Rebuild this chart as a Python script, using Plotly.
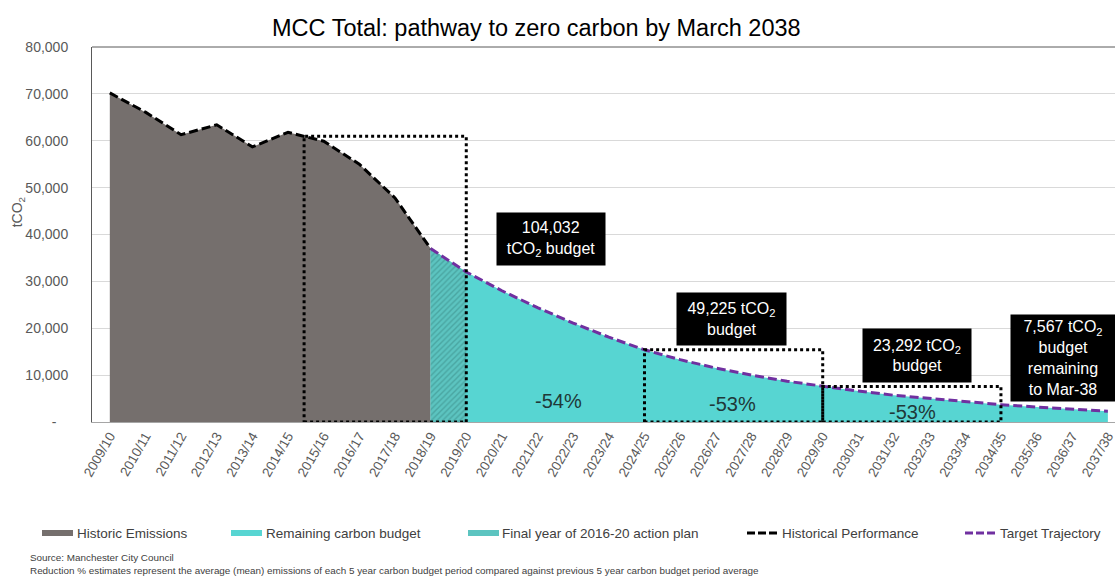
import plotly.graph_objects as go

# ---------------- data ----------------
years = ["2009/10", "2010/11", "2011/12", "2012/13", "2013/14", "2014/15", "2015/16",
         "2016/17", "2017/18", "2018/19", "2019/20", "2020/21", "2021/22", "2022/23",
         "2023/24", "2024/25", "2025/26", "2026/27", "2027/28", "2028/29", "2029/30",
         "2030/31", "2031/32", "2032/33", "2033/34", "2034/35", "2035/36", "2036/37",
         "2037/38"]

historic_emissions = [70200, 66100, 61300, 63400, 58700, 61800, 59900, 55000, 47800, 37000]

target_trajectory = [37000, 32000, 28000, 24400, 21100, 18100, 15400, 13300, 11500, 10000,
                     8700, 7600, 6600, 5700, 5000, 4300, 3700, 3200, 2700, 2300]

budget_texts = ["104,032<br>tCO<sub>2</sub> budget",
                "49,225 tCO<sub>2</sub><br>budget",
                "23,292 tCO<sub>2</sub><br>budget",
                "7,567 tCO<sub>2</sub><br>budget<br>remaining<br>to Mar-38"]

reduction_texts = ["-54%", "-53%", "-53%"]

y_tick_values = [0, 10000, 20000, 30000, 40000, 50000, 60000, 70000, 80000]
y_tick_labels = ["-\u00a0\u00a0\u00a0", "10,000", "20,000", "30,000", "40,000",
                 "50,000", "60,000", "70,000", "80,000"]

legend_labels = ["Historic Emissions", "Remaining carbon budget",
                 "Final year of 2016-20 action plan", "Historical Performance",
                 "Target Trajectory"]

# ---------------- styles ----------------
FONT = "Liberation Sans, Arial, sans-serif"
GREY = "#756f6d"
TEAL = "#57d5d2"
HATCH_BG = "#5cc4c0"
HATCH_FG = "#4aa6a2"
PURPLE = "#7030a0"
TXT = "#595959"

n_hist = len(historic_emissions)
start_idx = n_hist - 1            # trajectory starts at last historic year
hist_x = years[:n_hist]
target_x = years[start_idx:]

fig = go.Figure()

fig.add_trace(go.Scatter(x=hist_x, y=historic_emissions, mode="lines", fill="tozeroy",
                         fillcolor=GREY, line=dict(width=0, color=GREY),
                         hoverinfo="skip", showlegend=False))
fig.add_trace(go.Scatter(x=target_x, y=target_trajectory, mode="lines", fill="tozeroy",
                         fillcolor=TEAL, line=dict(width=0, color=TEAL),
                         hoverinfo="skip", showlegend=False))
fig.add_trace(go.Scatter(x=target_x[:2], y=target_trajectory[:2], mode="lines",
                         fill="tozeroy", fillcolor=HATCH_BG,
                         fillpattern=dict(shape="/", bgcolor=HATCH_BG, fgcolor=HATCH_FG,
                                          size=4, solidity=0.35, fillmode="replace"),
                         line=dict(width=0, color=HATCH_BG),
                         hoverinfo="skip", showlegend=False))
fig.add_trace(go.Scatter(x=hist_x, y=historic_emissions, mode="lines",
                         line=dict(color="black", width=3, dash="9px,4px"),
                         hoverinfo="skip", showlegend=False))
fig.add_trace(go.Scatter(x=target_x, y=target_trajectory, mode="lines",
                         line=dict(color=PURPLE, width=3, dash="9px,4px"),
                         hoverinfo="skip", showlegend=False))

# ---------------- dotted budget-period boxes ----------------
def hist_at(pos):
    i = int(pos)
    f = pos - i
    return historic_emissions[i] + f * (historic_emissions[i + 1] - historic_emissions[i])

def target_at(idx):
    return target_trajectory[idx - start_idx]

boxes = [(5.45, 10, hist_at(5.45)),
         (15, 20, target_at(15)),
         (20, 25, target_at(20))]
shapes = []
for x0, x1, top in boxes:
    shapes.append(dict(type="rect", xref="x", yref="y", x0=x0, x1=x1, y0=0, y1=top,
                       line=dict(color="black", width=3, dash="dot"), layer="above"))

# plot-area top border
shapes.append(dict(type="line", xref="paper", yref="paper", x0=0, x1=1, y0=1, y1=1,
                   line=dict(color="#595959", width=1)))

# ---------------- annotations ----------------
annotations = []
box_geom = [(12.37, 39000, 108, 52), (17.45, 21950, 109, 52),
            (22.64, 14200, 108, 53), (26.75, 13650, 104, 86)]
for txt, (bx, by, bw, bh) in zip(budget_texts, box_geom):
    annotations.append(dict(x=bx, y=by, xref="x", yref="y", text=txt, showarrow=False,
                            bgcolor="black", font=dict(color="white", size=16, family=FONT),
                            width=bw, height=bh, borderpad=0, align="center",
                            valign="middle"))

pct_pos = [(12.6, 4500), (17.48, 3850), (22.52, 2150)]
for txt, (px_, py_) in zip(reduction_texts, pct_pos):
    annotations.append(dict(x=px_, y=py_, xref="x", yref="y", text=txt, showarrow=False,
                            font=dict(color="#203838", size=20, family=FONT)))

# y-axis title
annotations.append(dict(x=-0.072, y=0.56, xref="paper", yref="paper", xanchor="center",
                        yanchor="middle", text="tCO<sub>2</sub>", textangle=-90,
                        showarrow=False, font=dict(size=14, color=TXT, family=FONT)))

# footer
annotations.append(dict(x=-0.063, y=-0.36, xref="paper", yref="paper", xanchor="left",
                        yanchor="middle", text="Source: Manchester City Council",
                        showarrow=False, font=dict(size=9.9, color="#404040", family=FONT)))
annotations.append(dict(x=-0.063, y=-0.397, xref="paper", yref="paper", xanchor="left",
                        yanchor="middle",
                        text="Reduction % estimates represent the average (mean) emissions of each 5 year carbon budget period compared against previous 5 year carbon budget period average",
                        showarrow=False, font=dict(size=9.9, color="#404040", family=FONT)))

# ---------------- manual legend ----------------
L0, PW, PH = 92, 1023, 375   # plot-area pixel geometry
def px(x):
    return (x - L0) / PW
def py(y):
    return (422 - y) / PH

leg_y = 533
sym_x = [42, 231, 468, 747, 965]
txt_x = [75, 264, 500, 780, 998]
sym_kind = [("rect", GREY), ("rect", TEAL), ("rect", HATCH_BG),
            ("line", "black"), ("line", PURPLE)]
for (kind, col), sx in zip(sym_kind, sym_x):
    if kind == "rect":
        shapes.append(dict(type="rect", xref="paper", yref="paper",
                           x0=px(sx), x1=px(sx + 31), y0=py(leg_y + 3), y1=py(leg_y - 3),
                           fillcolor=col, line=dict(width=0)))
    else:
        shapes.append(dict(type="line", xref="paper", yref="paper",
                           x0=px(sx), x1=px(sx + 31), y0=py(leg_y), y1=py(leg_y),
                           line=dict(color=col, width=3, dash="8px,3px")))
for lbl, tx in zip(legend_labels, txt_x):
    annotations.append(dict(x=px(tx), y=py(leg_y), xref="paper", yref="paper",
                            xanchor="left", yanchor="middle", text=lbl, showarrow=False,
                            font=dict(size=13.5, color="#404040", family=FONT)))

fig.update_layout(
    width=1115, height=579,
    margin=dict(l=92, r=0, t=47, b=157),
    paper_bgcolor="white", plot_bgcolor="white",
    title=dict(text="MCC Total: pathway to zero carbon by March 2038",
               x=0.481, xanchor="center", y=0.952, yanchor="middle",
               font=dict(size=23.5, color="black", family=FONT)),
    xaxis=dict(type="category", categoryorder="array", categoryarray=years,
               range=[-0.5, 28.2], showgrid=False, showline=True, linecolor="#a6a6a6",
               linewidth=1, tickangle=-60, tickfont=dict(size=13.5, color=TXT, family=FONT),
               ticks="", zeroline=False),
    yaxis=dict(range=[0, 80000], tickvals=y_tick_values, ticktext=y_tick_labels,
               showgrid=True, gridcolor="#d9d9d9", gridwidth=1, showline=True,
               linecolor="#595959", linewidth=1, zeroline=False,
               tickfont=dict(size=14, color=TXT, family=FONT), ticklabelstandoff=20),
    shapes=shapes, annotations=annotations, showlegend=False,
)

fig.write_html("out.html")
